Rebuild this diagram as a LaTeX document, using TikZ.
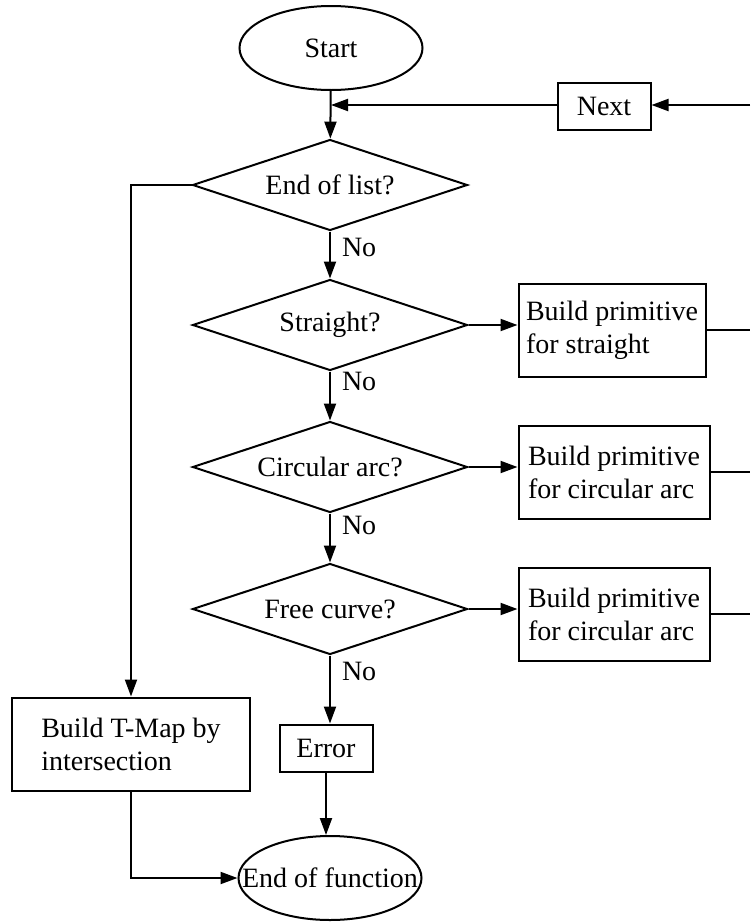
\documentclass[tikz,border=0pt]{standalone}
\usepackage{fontspec}
\setmainfont{Liberation Serif}
\usetikzlibrary{shapes.geometric,arrows.meta}
\begin{document}
\begin{tikzpicture}[x=1pt,y=-1pt,
  font=\fontsize{28}{33}\selectfont,
  line width=2pt,
  every node/.style={inner sep=0pt},
  arr/.style={-{Triangle[length=17pt,width=12pt]}},
  term/.style={draw,ellipse,minimum width=183pt,minimum height=84pt,inner xsep=-30pt},
  decide/.style={draw,diamond,aspect=3,minimum width=275pt,minimum height=91pt},
  proc/.style={draw,rectangle,align=left,minimum height=93pt},
  small/.style={draw,rectangle,minimum width=93pt,minimum height=47pt},
  nolabel/.style={anchor=west}
]
\useasboundingbox (0,0) rectangle (750,924);

% terminals
\node[term] (start) at (331,48) {Start};
\node[term] (eof) at (330,878) {End of function};

% decisions
\node[decide] (eol) at (330,185) {End of list?};
\node[decide] (str) at (330,325) {Straight?};
\node[decide] (circ) at (330,467) {Circular arc?};
\node[decide] (free) at (330,609) {Free curve?};

% processes
\node[small] (next) at (604,106) {Next};
\node[proc,minimum width=187pt] (bstr) at (612,330) {Build primitive\\for straight};
\node[proc,minimum width=191pt] (bcirc) at (614,472) {Build primitive\\for circular arc};
\node[proc,minimum width=191pt] (bfree) at (614,614) {Build primitive\\for circular arc};
\node[small] (err) at (326,748) {Error};
\node[proc,minimum width=238pt] (tmap) at (131,744) {Build T-Map by\\intersection};

% "No" labels
\node[nolabel] (no1) at (341,247) {No};
\node[nolabel] (no2) at (341,381) {No};
\node[nolabel] (no3) at (341,525) {No};
\node[nolabel] (no4) at (341,671) {No};

% return path along the right edge
\coordinate (rnext) at (750,105);
\coordinate (redge) at (750,330);

% main flow
\draw[arr] (start) -- (eol);
\draw[arr] (eol) -- (str);
\draw[arr] (str) -- (circ);
\draw[arr] (circ) -- (free);
\draw[arr] (free.south) -- (free.south |- err.north);
\draw[arr] (err.south) -- (err.south |- eof.north);

% yes branches
\draw[arr] (str.east) -- (bstr.west |- str.east);
\draw[arr] (circ.east) -- (bcirc.west |- circ.east);
\draw[arr] (free.east) -- (bfree.west |- free.east);

% loop back through Next
\draw (bstr.east) -- (bstr.east -| redge);
\draw (bcirc.east) -- (bcirc.east -| redge);
\draw (bfree.east) -- (bfree.east -| redge);
\draw[arr] (rnext) -- (next.east |- rnext);
\draw[arr] (next.west |- rnext) -- (start.south |- rnext);

% end of list branch
\draw[arr] (eol.west) -| (tmap.north);
\draw[arr] (tmap.south) |- (eof.west);
\end{tikzpicture}
\end{document}
